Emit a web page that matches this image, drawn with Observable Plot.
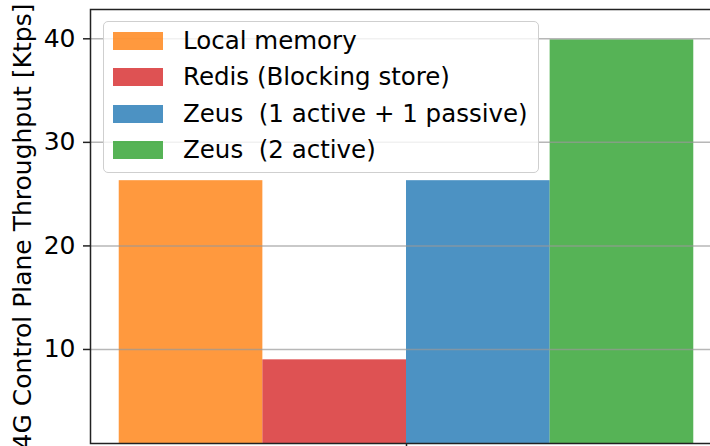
<!DOCTYPE html>
<html>
<head>
<meta charset="utf-8">
<script src="https://cdn.jsdelivr.net/npm/d3@7"></script>
<script src="https://cdn.jsdelivr.net/npm/@observablehq/plot@0.6"></script>
<style>
  html, body { margin: 0; padding: 0; overflow: hidden; background: #fff; }
  #wrap { position: relative; width: 710px; height: 446px; overflow: hidden; font-family: "DejaVu Sans", sans-serif; }
  #wrap svg { max-width: none !important; display: block; }
  #legend { position: absolute; left: 103px; top: 21px; width: 434px; height: 150px;
            background: rgba(255,255,255,0.8); border: 1.5px solid #cfcfcf; border-radius: 5px; box-sizing: content-box; }
  .row { position: absolute; left: 9px; height: 18px; display: flex; align-items: center; white-space: pre; }
  .sw { width: 50px; height: 18px; margin-right: 20px; flex: none; }
  .lab { font-size: 24.5px; color: #000; line-height: 18px; }
</style>
</head>
<body>
<div id="wrap"></div>
<script>
const categories = ["Local memory", "Redis (Blocking store)", "Zeus  (1 active + 1 passive)", "Zeus  (2 active)"];
const values = [26.3, 9.0, 26.3, 39.9];
const baseColors = ["#ff7f0e", "#d62728", "#1f77b4", "#2ca02c"];
const yTicks = [10, 20, 30, 40];
const groupTicks = [0];
const yLabel = "4G Control Plane Throughput [Ktps]";

const data = categories.map((c, i) => ({cat: c, value: values[i], color: baseColors[i], x1: i - 2, x2: i - 1}));

const chart = Plot.plot({
  width: 722,
  height: 446,
  marginLeft: 90,
  marginRight: 0,
  marginTop: 9,
  marginBottom: 3,
  style: {fontFamily: "DejaVu Sans", fontSize: "25px", color: "#000", background: "#fff", overflow: "visible", maxWidth: "none"},
  x: {type: "linear", domain: [-2.2, 2.2]},
  y: {domain: [0.92, 42.83]},
  marks: [
    Plot.rectY(data, {x1: "x1", x2: "x2", y1: 0, y2: "value", fill: "color", fillOpacity: 0.8, clip: true}),
    Plot.gridY(yTicks, {stroke: "#999", strokeOpacity: 0.7, strokeWidth: 1.5}),
    Plot.axisY(yTicks, {tickSize: 7, tickPadding: 8, strokeWidth: 1.5, stroke: "#222", label: yLabel, labelAnchor: "center", labelArrow: "none", labelOffset: 77, fontSize: 25}),
    Plot.axisX(groupTicks, {tickSize: 4, tickFormat: () => "", strokeWidth: 1.5, stroke: "#222", label: null}),
    Plot.frame({stroke: "#222", strokeWidth: 1.5})
  ]
});

const wrap = document.getElementById("wrap");
wrap.appendChild(chart);

const legend = document.createElement("div");
legend.id = "legend";
categories.forEach((c, i) => {
  const row = document.createElement("div");
  row.className = "row";
  row.style.top = (10 + i * 36.3) + "px";
  const sw = document.createElement("div");
  sw.className = "sw";
  sw.style.background = baseColors[i];
  sw.style.opacity = 0.8;
  const lab = document.createElement("span");
  lab.className = "lab";
  lab.textContent = c;
  row.appendChild(sw);
  row.appendChild(lab);
  legend.appendChild(row);
});
wrap.appendChild(legend);
</script>
</body>
</html>
